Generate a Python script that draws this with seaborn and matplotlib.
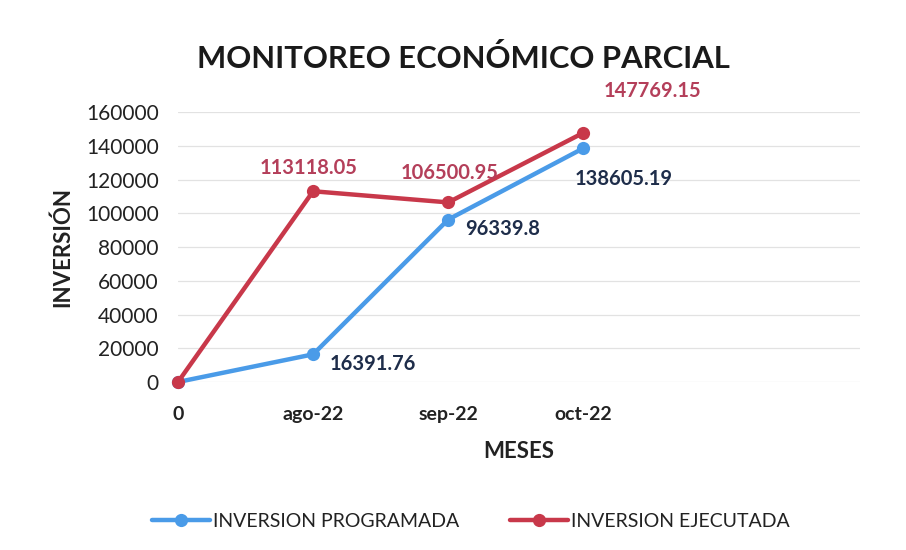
import matplotlib
matplotlib.use("Agg")
import matplotlib.pyplot as plt
import seaborn as sns
import pandas as pd

meses = ["0", "ago-22", "sep-22", "oct-22"]
programada = [0, 16391.76, 96339.8, 138605.19]
ejecutada = [0, 113118.05, 106500.95, 147769.15]
serie_prog = "INVERSION PROGRAMADA"
serie_ejec = "INVERSION EJECUTADA"
yticks = [0, 20000, 40000, 60000, 80000, 100000, 120000, 140000, 160000]

sns.set_theme(style="white")
plt.rcParams['font.family'] = ['Lato', 'DejaVu Sans']

df = pd.DataFrame({
    "mes": meses * 2,
    "valor": programada + ejecutada,
    "serie": [serie_prog] * len(meses) + [serie_ejec] * len(meses),
})

blue = "#4A9BE8"
red = "#C8384A"

fig = plt.figure(figsize=(9.06, 5.5), dpi=100)
ax = fig.add_axes([0.1965, 0.3055, 0.753, 0.4905])

sns.lineplot(data=df, x="mes", y="valor", hue="serie", sort=False,
             palette={serie_prog: blue, serie_ejec: red},
             hue_order=[serie_prog, serie_ejec],
             marker="o", markersize=9.5, markeredgewidth=0, linewidth=3.2, ax=ax)
for ln in ax.lines:
    ln.set_clip_on(False)

ax.set_xlim(0, 5.05)
ax.set_ylim(0, 160000)
ax.set_yticks(yticks)
ax.set_yticklabels([str(v) for v in yticks], fontsize=15, color="#222222")
ax.tick_params(axis="x", labelsize=14, colors="#222222", pad=17, length=0)
for lab in ax.get_xticklabels():
    lab.set_fontweight("bold")
ax.tick_params(axis="y", pad=14, length=0)
ax.grid(axis="y", color="#e2e2e2", linewidth=0.9)
for s in ax.spines.values():
    s.set_visible(False)

ax.set_xlabel("MESES", fontsize=16, fontweight="bold", color="#222222", labelpad=13)
ax.set_ylabel("INVERSIÓN", fontsize=16, fontweight="bold", color="#222222", labelpad=9)
fig.text(0.512, 0.893, "MONITOREO ECONÓMICO PARCIAL", ha="center", va="center",
         fontsize=22.3, fontweight="bold", color="#1a1a1a")

red_lab = "#B43F5A"
dark_lab = "#1E2D4A"
offs_e = [None, (-3, 17), (1, 21), (50, 30)]
for i, v in enumerate(ejecutada):
    if offs_e[i] is None:
        continue
    ax.annotate(f"{v}", (i, v), xytext=offs_e[i], textcoords="offset points",
                ha="center", va="center", fontsize=14.5, fontweight="bold",
                color=red_lab)
offs_p = [None, (12, -7), (12, -6.5), (-6, -22)]
for i, v in enumerate(programada):
    if offs_p[i] is None:
        continue
    ax.annotate(f"{v}", (i, v), xytext=offs_p[i], textcoords="offset points",
                ha="left", va="center", fontsize=14.5, fontweight="bold",
                color=dark_lab)

leg = ax.legend(loc="center", bbox_to_anchor=(0.429, -0.518), ncol=2,
                frameon=False, fontsize=14, handlelength=3.0,
                columnspacing=2.6, handletextpad=0.15)
for t in leg.get_texts():
    t.set_color("#222222")

fig.savefig("out.png", dpi=100, facecolor="white")
